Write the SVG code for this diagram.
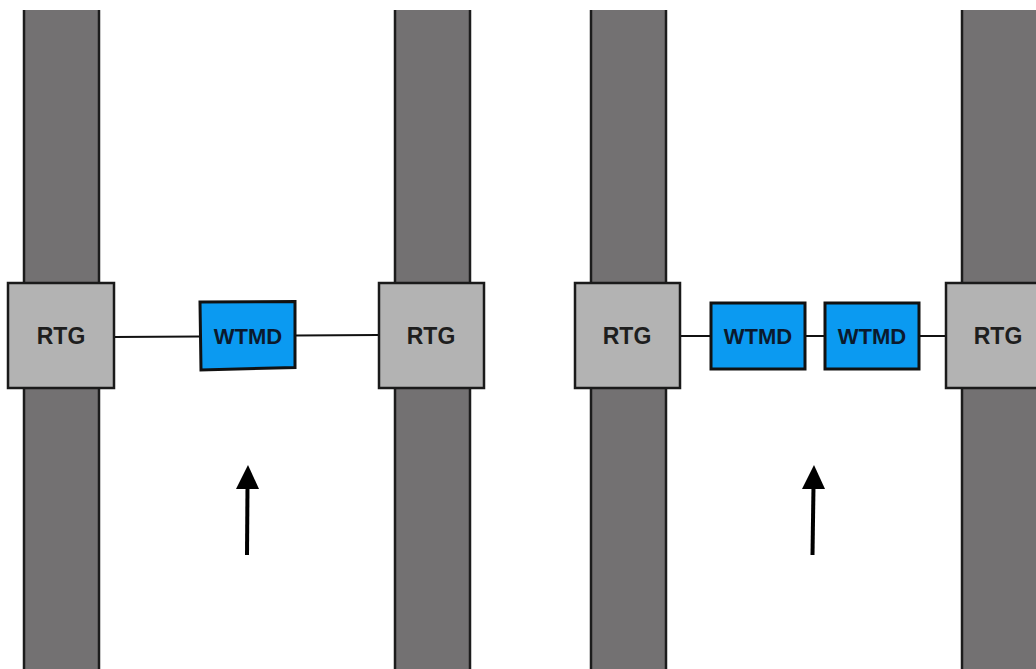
<svg xmlns="http://www.w3.org/2000/svg" width="1036" height="669" viewBox="0 0 1036 669">
  <style>
    .pole { fill: #737172; }
    .pole-edge { stroke: #1c1c1c; stroke-width: 2.5; fill: none; }
    .rtg { fill: #b3b3b3; stroke: #1a1a1a; stroke-width: 2.5; }
    .wtmd { fill: #0b9af1; stroke: #111; stroke-width: 3; }
    .link { stroke: #111; stroke-width: 2; fill: none; }
    .arrow { stroke: #000; stroke-width: 4; fill: none; }
    .rtg-label { font-family: "Liberation Sans", Arial, sans-serif; font-weight: bold; font-size: 23px; fill: #1e1e1e; text-anchor: middle; }
    .wtmd-label { font-family: "Liberation Sans", Arial, sans-serif; font-weight: bold; font-size: 22px; fill: #0b1a2e; text-anchor: middle; }
  </style>
  <rect width="1036" height="669" fill="#ffffff"/>

  <!-- crane legs: grey fill with dark side edges -->
  <g id="poles">
    <rect class="pole" x="24" y="10" width="75" height="670"/>
    <path class="pole-edge" d="M24,10 V669 M99,10 V669"/>
    <rect class="pole" x="395" y="10" width="75" height="670"/>
    <path class="pole-edge" d="M395,10 V669 M470,10 V669"/>
    <rect class="pole" x="591" y="10" width="75" height="670"/>
    <path class="pole-edge" d="M591,10 V669 M666,10 V669"/>
    <rect class="pole" x="962" y="10" width="80" height="670"/>
    <path class="pole-edge" d="M962,10 V669"/>
  </g>

  <!-- cables -->
  <g id="connectors">
    <line class="link" x1="114" y1="337" x2="200" y2="336.5"/>
    <line class="link" x1="296" y1="335.5" x2="378" y2="335"/>
    <line class="link" x1="680" y1="336" x2="711" y2="336"/>
    <line class="link" x1="805" y1="336" x2="825" y2="336"/>
    <line class="link" x1="919" y1="336" x2="946" y2="336"/>
  </g>

  <g id="rtg-1">
    <rect class="rtg" x="8" y="283" width="106" height="105"/>
    <text class="rtg-label" x="61" y="344">RTG</text>
  </g>
  <g id="rtg-2">
    <rect class="rtg" x="379" y="283" width="105" height="105"/>
    <text class="rtg-label" x="431" y="344">RTG</text>
  </g>
  <g id="rtg-3">
    <rect class="rtg" x="575" y="283" width="105" height="105"/>
    <text class="rtg-label" x="627" y="344">RTG</text>
  </g>
  <g id="rtg-4">
    <rect class="rtg" x="946" y="283" width="100" height="105"/>
    <text class="rtg-label" x="998" y="344">RTG</text>
  </g>

  <g id="wtmd-1">
    <path class="wtmd" d="M200,302 L295,301.5 L295,367.5 L201,370 Z"/>
    <text class="wtmd-label" x="248" y="344">WTMD</text>
  </g>
  <g id="wtmd-2">
    <rect class="wtmd" x="711" y="303" width="94" height="66"/>
    <text class="wtmd-label" x="758" y="344">WTMD</text>
  </g>
  <g id="wtmd-3">
    <rect class="wtmd" x="825" y="303" width="94" height="66"/>
    <text class="wtmd-label" x="872" y="344">WTMD</text>
  </g>

  <!-- travel direction -->
  <g id="arrows">
    <line class="arrow" x1="247" y1="555" x2="247.5" y2="486"/>
    <path d="M236,489 L248,465 L259,489 Z" fill="#000"/>
    <line class="arrow" x1="812.5" y1="555" x2="813.5" y2="486"/>
    <path d="M802,489 L814,465 L825,489 Z" fill="#000"/>
  </g>
</svg>
